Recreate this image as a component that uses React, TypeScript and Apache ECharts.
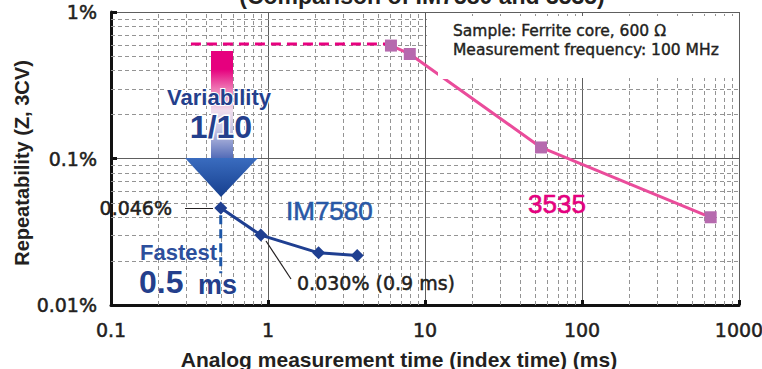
import React, { useEffect, useRef } from "react";
import * as echarts from "echarts";

// ---- data ----
const xTicks = [0.1, 1, 10, 100, 1000];
const yTicks = [0.01, 0.1, 1];
const im7580Time = [0.5, 0.9, 2.1, 3.7];
const im7580Rep = [0.046, 0.03, 0.0227, 0.0218];
const h3535Time = [6.07, 8.0, 54.8, 660];
const h3535Rep = [0.59, 0.517, 0.119, 0.0397];
const refLineTime = [0.323, 6.07];
const refLineRep = [0.605, 0.605];
const fastestTime = [0.5, 0.5];
const fastestRep = [0.041, 0.0165];
const minorSteps = [2, 3, 4, 5, 6, 7, 8, 9];
const xDecades = [0.1, 1, 10, 100];
const yDecades = [0.01, 0.1];

const X_MIN = xTicks[0];
const X_MAX = xTicks[xTicks.length - 1];
const Y_MIN = yTicks[0];
const Y_MAX = yTicks[yTicks.length - 1];

const minorX: number[] = [];
xDecades.forEach((d) => minorSteps.forEach((s) => minorX.push(d * s)));
const minorY: number[] = [];
yDecades.forEach((d) => minorSteps.forEach((s) => minorY.push(d * s)));

const zip = (a: number[], b: number[]) => a.map((v, i) => [v, b[i]]);

const DARK = "#231f20";
const REG = '"DejaVu Sans"';
const HEL = '"Liberation Sans", Arial';

function txt(
  text: string,
  x: number,
  y: number,
  font: string,
  fill: string,
  align: string = "left",
  extra: any = {}
) {
  return {
    type: "text",
    x,
    y,
    z: extra.z ?? 30,
    rotation: extra.rotation ?? 0,
    silent: true,
    style: {
      text,
      font,
      fill,
      align,
      textAlign: align,
      verticalAlign: "middle",
      textVerticalAlign: "middle",
      stroke: extra.stroke,
      lineWidth: extra.lineWidth ?? 0,
    },
  };
}

export default function App() {
  const ref = useRef<HTMLDivElement>(null);
  useEffect(() => {
    if (!ref.current) return;
    const chart = echarts.init(ref.current, null, { renderer: "svg" });

    const minorLineStyle = { stroke: "#949494", lineWidth: 1, lineDash: [4, 3] };

    const option: any = {
      animation: false,
      backgroundColor: "#fff",
      grid: { left: 111, right: 23, top: 12, bottom: 64, outerBoundsMode: "none" },
      xAxis: {
        type: "log",
        logBase: 10,
        min: X_MIN,
        max: X_MAX,
        axisLine: { show: true, onZero: false, lineStyle: { color: "#111", width: 3 } },
        axisTick: { show: true, inside: true, length: 5, lineStyle: { color: "#111", width: 3 } },
        axisLabel: {
          margin: 15,
          color: DARK,
          fontSize: 19,
          fontFamily: "DejaVu Sans",
          textBorderColor: DARK,
          textBorderWidth: 0.5,
          formatter: (v: number) => String(+(+v).toPrecision(3)),
        },
        splitLine: { show: true, lineStyle: { color: "#5e5e5e", width: 1 } },
      },
      yAxis: {
        type: "log",
        logBase: 10,
        min: Y_MIN,
        max: Y_MAX,
        axisLine: { show: true, onZero: false, lineStyle: { color: "#111", width: 3 } },
        axisTick: { show: true, inside: true, length: 6, lineStyle: { color: "#111", width: 3 } },
        axisLabel: {
          margin: 14,
          color: DARK,
          fontSize: 19,
          fontFamily: "DejaVu Sans",
          textBorderColor: DARK,
          textBorderWidth: 0.5,
          formatter: (v: number) => +(+v).toPrecision(3) + "%",
        },
        splitLine: { show: true, lineStyle: { color: "#5e5e5e", width: 1 } },
      },
      series: [
        {
          type: "custom",
          z: 1,
          silent: true,
          encode: { x: 0, y: 1 },
          data: minorX.map((v) => [v, 0.1]),
          renderItem: (_p: any, api: any) => {
            const v = api.value(0);
            const a = api.coord([v, Y_MIN]);
            const b = api.coord([v, Y_MAX]);
            const xx = Math.round(a[0]) + 0.5;
            return { type: "line", shape: { x1: xx, y1: a[1], x2: xx, y2: b[1] }, style: minorLineStyle };
          },
        },
        {
          type: "custom",
          z: 1,
          silent: true,
          encode: { x: 0, y: 1 },
          data: minorY.map((v) => [1, v]),
          renderItem: (_p: any, api: any) => {
            const v = api.value(1);
            const a = api.coord([X_MIN, v]);
            const b = api.coord([X_MAX, v]);
            const yy = Math.round(a[1]) + 0.5;
            return { type: "line", shape: { x1: a[0], y1: yy, x2: b[0], y2: yy }, style: minorLineStyle };
          },
        },
        {
          name: "ref",
          type: "line",
          z: 4,
          silent: true,
          symbol: "none",
          data: zip(refLineTime, refLineRep),
          lineStyle: { color: "#e8007f", width: 3, type: [10, 6] },
        },
        {
          name: "fastest",
          type: "line",
          z: 4,
          silent: true,
          symbol: "none",
          data: zip(fastestTime, fastestRep),
          lineStyle: { color: "#1c56a8", width: 3, type: [9, 5] },
        },
        {
          name: "3535",
          type: "line",
          z: 5,
          symbol: "rect",
          symbolSize: 12,
          data: zip(h3535Time, h3535Rep),
          lineStyle: { color: "#ea4c9b", width: 3 },
          itemStyle: { color: "#b66aae" },
        },
        {
          name: "IM7580",
          type: "line",
          z: 5,
          symbol: "diamond",
          symbolSize: 13,
          data: zip(im7580Time, im7580Rep),
          lineStyle: { color: "#1f3f91", width: 3 },
          itemStyle: { color: "#1f3f91" },
        },
      ],
      graphic: [
        txt("(Comparison of IM7580 and 3535)", 422, -4, `bold 23px ${HEL}`, DARK, "center"),
        {
          type: "rect",
          z: 2,
          silent: true,
          shape: { x: 427, y: 16, width: 311, height: 62 },
          style: { fill: "#fff" },
        },
        {
          type: "rect",
          z: 20,
          silent: true,
          shape: { x: 438, y: 71, width: 12, height: 8 },
          style: { fill: "#fff" },
        },
        txt("Sample: Ferrite core, 600 Ω", 453, 31, `15.5px ${REG}`, DARK, "left", { stroke: DARK, lineWidth: 0.4 }),
        txt("Measurement frequency: 100 MHz", 453, 50, `15.5px ${REG}`, DARK, "left", { stroke: DARK, lineWidth: 0.4 }),
        {
          type: "rect",
          z: 10,
          silent: true,
          shape: { x: 211, y: 51, width: 22, height: 108 },
          style: {
            fill: new echarts.graphic.LinearGradient(0, 0, 0, 1, [
              { offset: 0, color: "#e6007e" },
              { offset: 0.17, color: "#e6007e" },
              { offset: 0.37, color: "#ef85ba" },
              { offset: 0.55, color: "#efdcec" },
              { offset: 0.72, color: "#c9c9e7" },
              { offset: 1, color: "#5069b6" },
            ]),
          },
        },
        {
          type: "polygon",
          z: 10,
          silent: true,
          shape: { points: [[185, 158], [258, 158], [221, 197]] },
          style: {
            fill: new echarts.graphic.LinearGradient(0, 0, 0, 1, [
              { offset: 0, color: "#3a6cbf" },
              { offset: 1, color: "#163f8e" },
            ]),
          },
        },
        txt("Variability", 219, 97, `bold 22px ${HEL}`, "#243f8c", "center", { stroke: "#fff", lineWidth: 2 }),
        txt("1/10", 221, 127, `bold 32px ${HEL}`, "#243f8c", "center", { stroke: "#fff", lineWidth: 3 }),
        txt("0.046%", 172, 208, `19px ${REG}`, DARK, "right", { stroke: DARK, lineWidth: 0.5 }),
        { type: "line", z: 30, silent: true, shape: { x1: 185, y1: 208.5, x2: 213, y2: 208.5 }, style: { stroke: DARK, lineWidth: 1 } },
        txt("IM7580", 286, 211, `26px ${HEL}`, "#2858a6", "left", { stroke: "#2858a6", lineWidth: 0.6 }),
        txt("Fastest", 140, 252, `bold 22px ${HEL}`, "#2d4f9c"),
        txt("0.5", 139, 282, `bold 32px ${HEL}`, "#243f8c"),
        txt("ms", 198, 285, `bold 27px ${HEL}`, "#243f8c"),
        txt("0.030% (0.9 ms)", 297, 283, `19px ${REG}`, DARK, "left", { stroke: DARK, lineWidth: 0.5 }),
        { type: "line", z: 30, silent: true, shape: { x1: 266, y1: 241, x2: 291, y2: 279 }, style: { stroke: DARK, lineWidth: 1.2 } },
        txt("3535", 528, 204, `26px ${HEL}`, "#e4007f", "left", { stroke: "#e4007f", lineWidth: 0.6 }),
        txt("Repeatability (Z, 3CV)", 22, 163, `bold 20px ${HEL}`, DARK, "center", { rotation: Math.PI / 2 }),
        txt("Analog measurement time (index time) (ms)", 399, 359, `bold 21px ${HEL}`, DARK, "center"),
      ],
    };
    chart.setOption(option);
    return () => chart.dispose();
  }, []);
  return (
    <div
      ref={ref}
      style={{ position: "fixed", left: 0, top: 0, width: 762, height: 369, background: "#fff" }}
    />
  );
}
